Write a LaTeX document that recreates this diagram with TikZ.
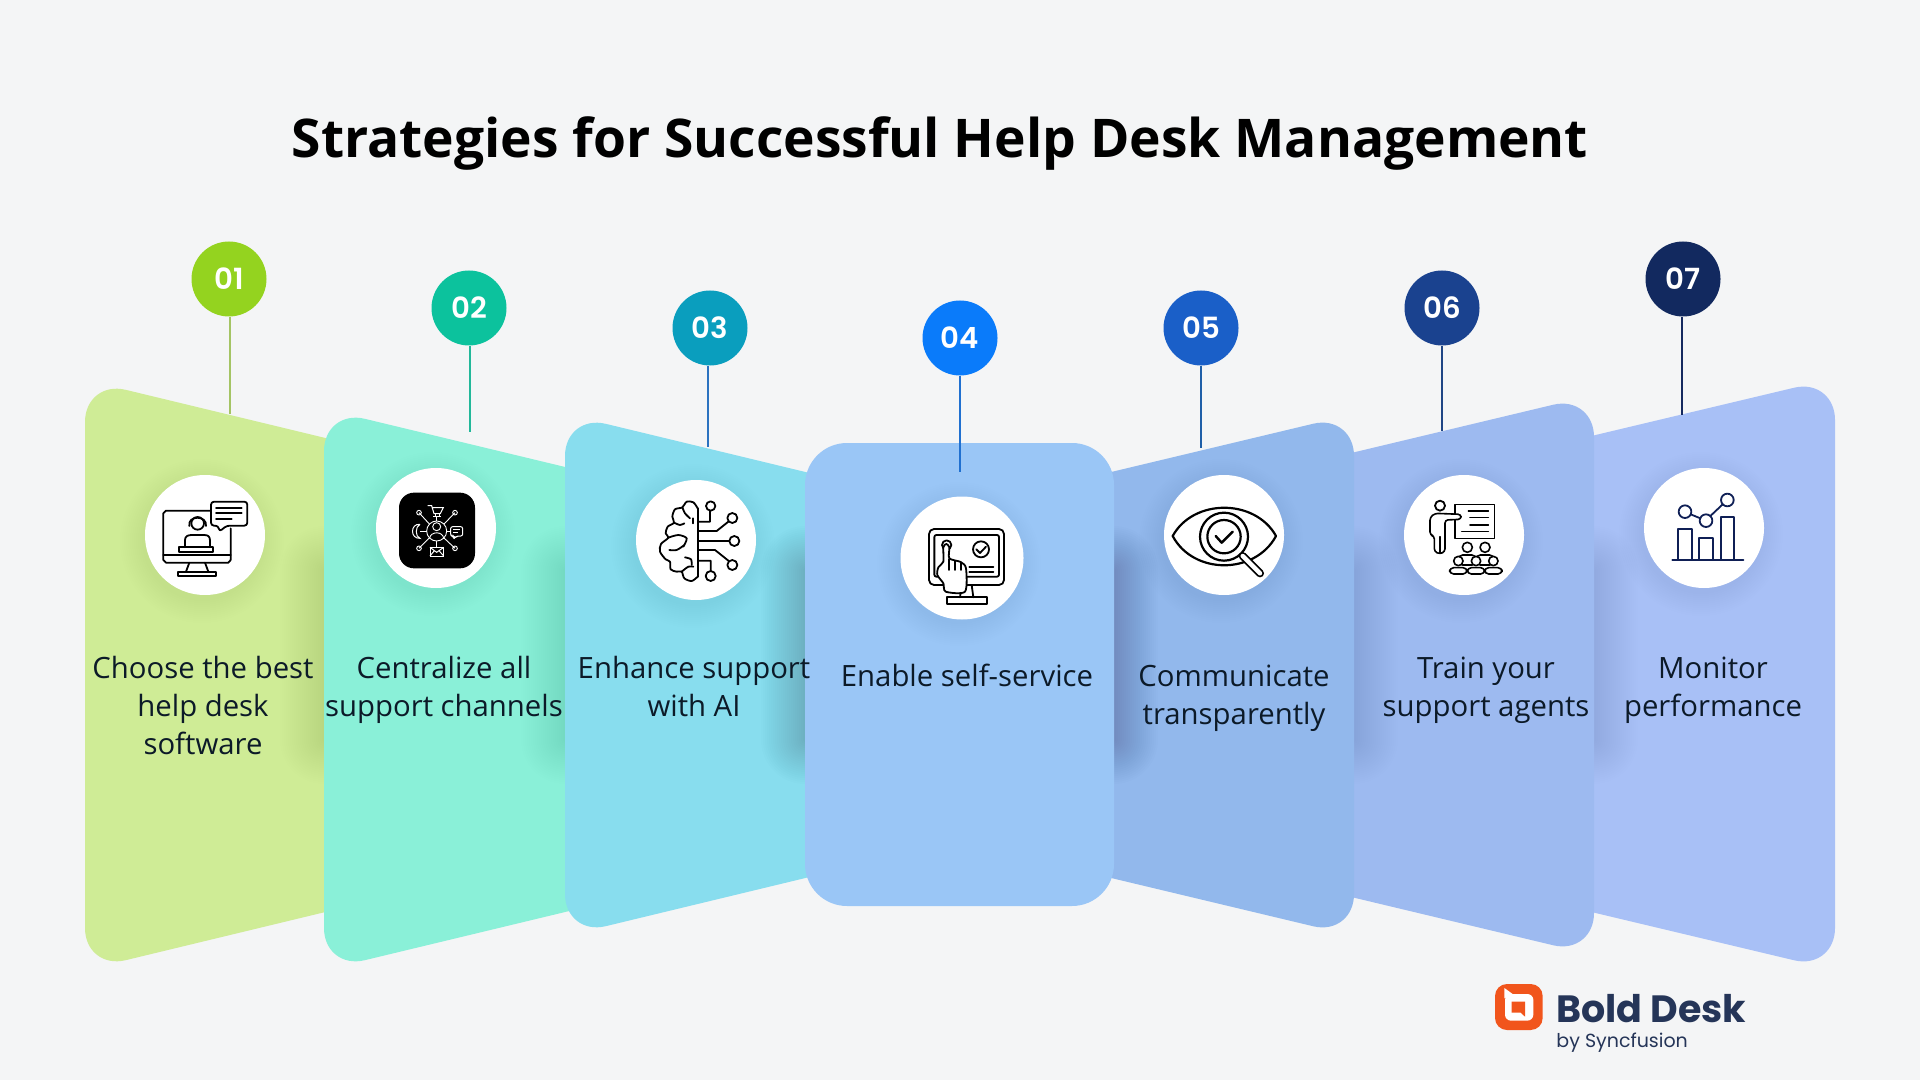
\documentclass[tikz,border=0pt]{standalone}
\usepackage{fontspec}
\setmainfont{Open Sans}
\newfontfamily\popfont{Poppins}
\newfontfamily\popmed{Poppins SemiBold}
\definecolor{bgc}{HTML}{F4F5F6}
\definecolor{pa}{HTML}{CFEC96}
\definecolor{pb}{HTML}{8AF0D8}
\definecolor{pc}{HTML}{88DDEE}
\definecolor{pd}{HTML}{9AC6F6}
\definecolor{pe}{HTML}{92B8EC}
\definecolor{pf}{HTML}{9DBAF0}
\definecolor{pg}{HTML}{A8C0F6}
\definecolor{ba}{HTML}{94D31F}
\definecolor{bb}{HTML}{0CC29D}
\definecolor{bc}{HTML}{0A9EBE}
\definecolor{bd}{HTML}{0A7BFA}
\definecolor{be}{HTML}{1A5FC8}
\definecolor{bf}{HTML}{1A428F}
\definecolor{bg}{HTML}{12295F}
\definecolor{la}{HTML}{A4C464}
\definecolor{lb}{HTML}{22B89A}
\definecolor{lc}{HTML}{2B72C0}
\definecolor{ld}{HTML}{2070D0}
\definecolor{le}{HTML}{1F5FA8}
\definecolor{lf}{HTML}{1F4585}
\definecolor{lg}{HTML}{15295F}
\definecolor{txt}{HTML}{0C1A28}
\definecolor{navy}{HTML}{0F1F55}
\definecolor{logoo}{HTML}{F1551C}
\definecolor{logon}{HTML}{253558}
\def\pA{(85,380) -- (400,456) -- (400,894) -- (85,970) -- cycle}
\def\pB{(324,409) -- (640,485) -- (640,894) -- (324,970) -- cycle}
\def\pC{(565,414) -- (880,490) -- (880,860) -- (565,936) -- cycle}
\def\pD{(805,443) -- (1114,443) -- (1114,906) -- (805,906) -- cycle}
\def\pE{(1354,414) -- (1040,489) -- (1040,861) -- (1354,936) -- cycle}
\def\pF{(1594,395) -- (1280,470) -- (1280,880) -- (1594,955) -- cycle}
\def\pG{(1835,378) -- (1520,453) -- (1520,895) -- (1835,970) -- cycle}
\tikzset{
  panel/.style={rounded corners=21pt},
  badge/.style={circle,minimum size=37.5pt,inner sep=0pt,text=white,font=\popmed\fontsize{14.6}{14.6}\selectfont},
  conn/.style={line width=1pt},
  label/.style={align=center,text=txt,inner sep=0pt,font=\fontsize{14.66}{19}\selectfont},
  iconc/.style={circle,fill=white,minimum size=60pt,inner sep=0pt},
  iconat/.style 2 args={shift={(#1,#2)},x=0.16667pt,y=-0.16667pt},
  ink/.style={line width=0.9pt,draw=black,line join=round,line cap=round},
}
\newcommand{\seamshade}[4]{%
  \begin{scope}
    \clip[panel] #1;
    \foreach \w in {2,4,...,44}{
      \draw[black,opacity=#4,line width=\w pt,line cap=round] (#2,#3) -- (#2,#3+170);
    }
  \end{scope}}
\newcommand{\iconshade}[2]{%
  \foreach \r in {60,62,...,82}{
    \fill[black,opacity=.005] (#1-3,#2+6) circle (\r);
  }}
\begin{document}
\begin{tikzpicture}[x=0.5pt,y=-0.5pt]
\useasboundingbox (0,0) rectangle (1920,1080);
\fill[bgc] (0,0) rectangle (1920,1080);
% panels, outer ones first
\fill[pa,panel] \pA;
\seamshade{\pA}{324}{570}{.005}
\fill[pb,panel] \pB;
\seamshade{\pB}{565}{570}{.005}
\fill[pc,panel] \pC;
\seamshade{\pC}{805}{570}{.006}
\fill[pg,panel] \pG;
\seamshade{\pG}{1594}{570}{.004}
\fill[pf,panel] \pF;
\seamshade{\pF}{1354}{570}{.005}
\fill[pe,panel] \pE;
\seamshade{\pE}{1114}{570}{.006}
\fill[pd,panel] \pD;
% title
\node[text=black,inner sep=0pt,font=\bfseries\fontsize{26.67}{30}\selectfont] (title) at (940,144) {Strategies for Successful Help Desk Management};
% badges and connectors
\node[badge,fill=ba] (b1) at (229,279) {01};
\node[badge,fill=bb] (b2) at (469,308) {02};
\node[badge,fill=bc] (b3) at (710,328) {03};
\node[badge,fill=bd] (b4) at (960,338) {04};
\node[badge,fill=be] (b5) at (1201,328) {05};
\node[badge,fill=bf] (b6) at (1442,308) {06};
\node[badge,fill=bg] (b7) at (1683,279) {07};
\coordinate (e1) at (229.5,414);
\coordinate (e2) at (470,432);
\coordinate (e3) at (708,447);
\coordinate (e4) at (960,472);
\coordinate (e5) at (1201,448);
\coordinate (e6) at (1442,431);
\coordinate (e7) at (1682,415);
\draw[conn,la] (b1.south -| e1) -- (e1);
\draw[conn,lb] (b2.south -| e2) -- (e2);
\draw[conn,lc] (b3.south -| e3) -- (e3);
\draw[conn,ld] (b4.south -| e4) -- (e4);
\draw[conn,le] (b5.south -| e5) -- (e5);
\draw[conn,lf] (b6.south -| e6) -- (e6);
\draw[conn,lg] (b7.south -| e7) -- (e7);
% icon discs
\iconshade{205}{535}
\iconshade{436}{528}
\iconshade{696}{540}
\iconshade{962}{558}
\iconshade{1224}{535}
\iconshade{1464}{535}
\iconshade{1704}{528}
\node[iconc] (i1) at (205,535) {};
\node[iconc] (i2) at (436,528) {};
\node[iconc] (i3) at (696,540) {};
\node[iconc,minimum size=61.5pt] (i4) at (962,558) {};
\node[iconc] (i5) at (1224,535) {};
\node[iconc] (i6) at (1464,535) {};
\node[iconc] (i7) at (1704,528) {};
% icon 1: agent on a monitor
\begin{scope}[iconat={130}{460}]
  \draw[ink] (243,152) -- (108,152) -- (100,160) -- (100,300) -- (108,308) -- (295,308) -- (302,300) -- (302,205);
  \draw[ink] (100,285) -- (302,285);
  \draw[ink] (178,308) -- (168,335) (225,308) -- (235,335);
  \draw[ink] (145,335) rectangle (258,348);
  \draw[ink] (203,190) circle (19);
  \draw[ink] (178,198) .. controls (172,165) and (232,165) .. (228,198);
  \draw[ink] (165,262) -- (165,240) .. controls (165,228) and (175,225) .. (185,225) -- (222,225) .. controls (235,225) and (240,230) .. (240,242) -- (240,262);
  \draw[ink] (148,262) rectangle (250,276);
  \draw[ink,fill=white,rounded corners=1.5pt] (243,125) -- (352,125) -- (352,197) -- (290,197) -- (268,215) -- (265,197) -- (243,197) -- cycle;
  \draw[ink] (258,145) -- (335,145) (258,160) -- (335,160) (258,178) -- (305,178);
\end{scope}
% icon 2: channels on a black tile
\begin{scope}[iconat={365}{455}]
  \fill[black,rounded corners=7.5pt] (102,113) rectangle (330,340);
  \draw[white,line width=.45pt] (215,228) circle (30) (215,215) circle (12);
  \draw[white,line width=.45pt] (194,250) .. controls (196,228) and (234,228) .. (236,250);
  \foreach \a/\b/\c/\d in {162/173/193/207,270/173/237/207,162/280/193/249,270/280/237/249}{
    \draw[white,line width=.45pt] (\a,\b) circle (7) (\a,\b) -- (\c,\d);
  }
  \draw[white,line width=.45pt] (215,198) -- (215,187) (185,228) -- (165,228) (245,228) -- (257,228) (215,258) -- (215,277);
  \draw[white,line width=.5pt] (188,152) -- (200,152) -- (207,176) -- (226,176) -- (235,158) -- (200,158);
  \draw[white,line width=.5pt] (205,184) -- (228,184) (212,176) -- (212,184) (222,176) -- (222,184);
  \draw[white,line width=.5pt] (165,208) .. controls (135,205) and (135,252) .. (165,250) .. controls (150,245) and (150,215) .. (165,208);
  \draw[white,line width=.5pt,rounded corners=1pt] (257,215) -- (293,215) -- (293,243) -- (275,243) -- (268,250) -- (266,243) -- (257,243) -- cycle;
  \draw[white,line width=.4pt] (264,224) -- (286,224) (264,233) -- (280,233);
  \draw[white,line width=.5pt] (195,277) rectangle (236,303);
  \draw[white,line width=.5pt] (195,277) -- (215,292) -- (236,277) (195,303) -- (208,287) (236,303) -- (222,287);
\end{scope}
% icon 3: brain and circuit
\begin{scope}[iconat={625}{470}]
  \draw[ink] plot[smooth] coordinates {(218,115) (205,97) (185,95) (172,112) (150,118) (142,140) (147,158) (128,170) (122,190) (130,203) (108,222) (105,245) (122,268) (135,275) (137,298) (155,305) (170,305) (178,325) (200,333) (218,320)};
  \draw[ink] (218,115) -- (218,320);
  \draw[ink] plot[smooth] coordinates {(172,112) (180,130) (195,145)};
  \draw[ink] (205,145) -- (205,160);
  \draw[ink] plot[smooth] coordinates {(147,158) (165,165) (178,160)};
  \draw[ink] plot[smooth] coordinates {(130,203) (160,195) (185,205) (175,230)};
  \draw[ink] plot[smooth] coordinates {(133,240) (155,240) (178,225)};
  \draw[ink] plot[smooth] coordinates {(170,305) (190,290) (205,290)};
  \draw[ink] plot[smooth] coordinates {(180,262) (198,268) (200,285)};
  \draw[ink] (222,155) -- (255,155) -- (255,122) (222,183) -- (275,183) -- (310,155) (222,213) -- (313,213) (222,240) -- (270,240) -- (310,272) (222,272) -- (257,272) -- (257,303);
  \draw[ink] (257,108) circle (14) (322,144) circle (15) (328,213) circle (15) (322,285) circle (15) (257,318) circle (15);
\end{scope}
% icon 4: touch screen
\begin{scope}[iconat={890}{490}]
  \draw[ink,rounded corners=2.5pt] (117,117) rectangle (342,285);
  \draw[ink,rounded corners=1pt] (133,135) rectangle (327,260);
  \draw[ink] (213,300) -- (210,322) (245,285) -- (250,322);
  \draw[ink] (170,322) rectangle (290,343);
  \draw[ink] (273,178) circle (24);
  \draw[ink] (259,178) -- (270,189) -- (288,170);
  \draw[ink] (238,232) -- (310,232) (238,245) -- (310,245);
  \draw[ink] (170,165) circle (14);
  \draw[ink,fill=white] plot[smooth cycle,tension=.45] coordinates {(160,172) (160,215) (145,232) (142,255) (160,280) (167,305) (225,305) (228,235) (212,216) (178,205) (178,172) (169,162)};
  \draw[ink] (178,208) -- (178,240) (195,212) -- (195,240) (212,218) -- (212,240);
\end{scope}
% icon 5: eye and magnifier
\begin{scope}[iconat={1150}{460}]
  \draw[ink,line width=1.1pt] (68,228) .. controls (130,115) and (315,115) .. (378,228) .. controls (315,345) and (130,345) .. (68,228) -- cycle;
  \draw[ink,line width=1.1pt,fill=white] (222,230) circle (72);
  \draw[ink,line width=1.1pt] (222,230) circle (50);
  \draw[ink,line width=1.2pt] (197,228) -- (215,248) -- (248,215);
  \draw[black,line width=4pt,line cap=round] (278,288) -- (330,340);
  \draw[white,line width=2.2pt,line cap=round] (278,288) -- (330,340);
\end{scope}
% icon 6: trainer and audience
\begin{scope}[iconat={1390}{460}]
  \draw[ink] (150,137) circle (15);
  \draw[ink,line width=.8pt] (195,133) rectangle (313,235);
  \draw[ink,line width=.8pt] (235,153) -- (295,153) (240,172) -- (295,172) (240,195) -- (295,195) (215,215) -- (295,215);
  \draw[ink,fill=white,line width=.8pt,rounded corners=1.5pt] (213,163) -- (135,160) -- (120,172) -- (120,225) -- (133,228) -- (133,275) -- (150,282) -- (165,275) -- (165,180) -- (213,178) -- cycle;
  \draw[ink,line width=.8pt] (150,230) -- (150,280);
  \foreach \hx in {232,285}{
    \draw[ink,fill=white,line width=.8pt,rounded corners=2pt] (\hx-26,315) -- (\hx-26,285) -- (\hx+26,285) -- (\hx+26,315) -- cycle;
    \draw[ink,fill=white,line width=.8pt] (\hx,262) circle (15);
  }
  \foreach \hx in {205,258,310}{
    \draw[ink,fill=white,line width=.8pt,rounded corners=2pt] (\hx-26,342) -- (\hx-26,323) -- (\hx+26,323) -- (\hx+26,342) -- cycle;
    \draw[ink,fill=white,line width=.8pt] (\hx,303) circle (14);
  }
\end{scope}
% icon 7: chart
\begin{scope}[iconat={1630}{455}]
  \draw[ink,draw=navy,line cap=butt] (145,312) -- (145,222) -- (187,222) -- (187,312) (207,312) -- (207,250) -- (248,250) -- (248,312) (272,312) -- (272,187) -- (312,187) -- (312,312);
  \draw[ink,draw=navy] (127,314) -- (340,314);
  \draw[ink,draw=navy] (165,170) circle (19) (228,197) circle (19) (292,135) circle (19);
  \draw[ink,draw=navy] (182,178) -- (211,190) (241,183) -- (278,148);
\end{scope}
% labels
\node[label] (t1) at (203,705) {Choose the best\\help desk\\software};
\node[label] (t2) at (444,690) {Centralize all\\support channels};
\node[label] (t3) at (694,686) {Enhance support\\with AI};
\node[label] (t4) at (967,675) {Enable self-service};
\node[label] (t5) at (1234,698) {Communicate\\transparently};
\node[label] (t6) at (1486,690) {Train your\\support agents};
\node[label] (t7) at (1713,690) {Monitor\\performance};
% logo
\begin{scope}[iconat={1470}{960}]
  \fill[logoo,rounded corners=6pt] (75,72) rectangle (218,210);
  \fill[white,rounded corners=3pt] (105,102) rectangle (190,182);
  \fill[white] (103,84) -- (103,115) -- (128,102) -- cycle;
  \fill[logoo] (125,125) -- (165,125) -- (165,170) -- (152,158) -- (125,158) -- cycle;
\end{scope}
\node[anchor=base west,inner sep=0pt,text=logon,font=\popfont\bfseries\fontsize{19}{19}\selectfont] (lg1) at (1556,1022) {Bold Desk};
\node[anchor=base west,inner sep=0pt,text=logon,font=\popfont\fontsize{9.5}{10}\selectfont] (lg2) at (1556,1047) {by Syncfusion};
\end{tikzpicture}
\end{document}
